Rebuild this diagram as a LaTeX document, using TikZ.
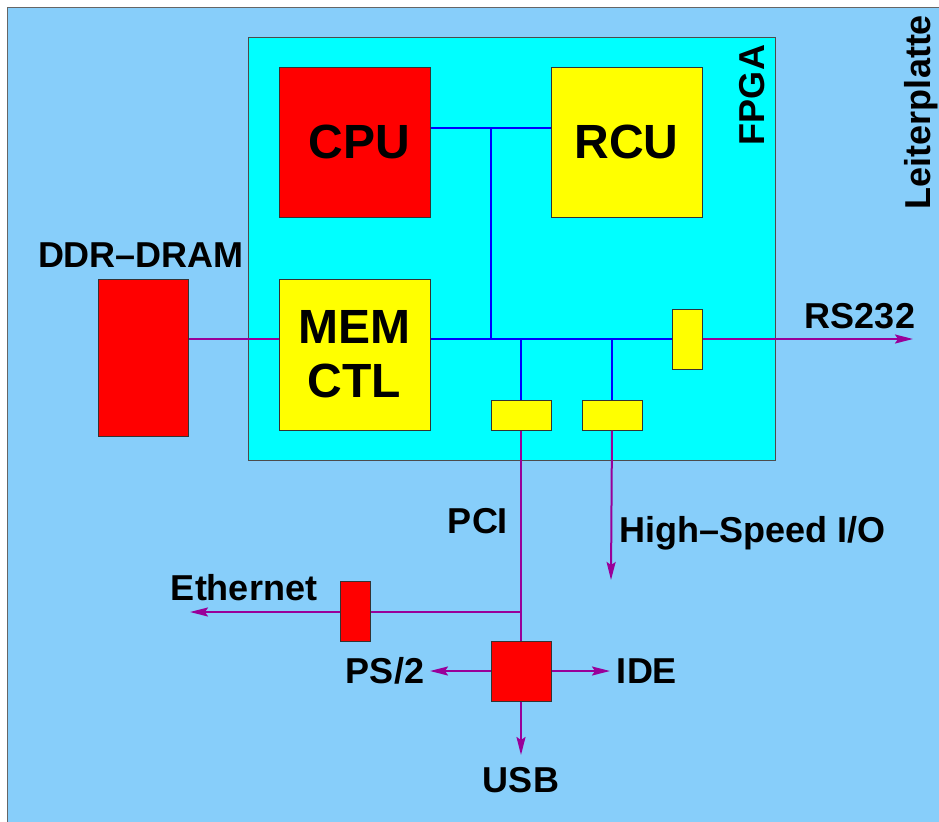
\documentclass[tikz,border=0pt]{standalone}
\usepackage{fontspec}
\setmainfont{Liberation Sans}
\usetikzlibrary{arrows.meta,positioning}
\definecolor{board}{HTML}{87CEFA}
\definecolor{fpgacol}{HTML}{00FFFF}
\definecolor{chipred}{HTML}{FF0000}
\definecolor{chipyel}{HTML}{FFFF00}
\definecolor{busblue}{HTML}{0000FF}
\definecolor{iopurple}{HTML}{990099}

\begin{document}
\begin{tikzpicture}[x=0.5pt, y=-0.5pt,
  chip/.style={draw=black!80, line width=0.5pt, inner sep=0pt, align=center,
               font=\fontsize{24}{27}\selectfont\bfseries},
  lbl/.style={font=\fontsize{18}{20}\selectfont\bfseries, inner sep=0pt},
  bus/.style={busblue, line width=1pt},
  io/.style={iopurple, line width=1pt},
  ioarr/.style={io, -{Stealth[length=9pt, width=4.5pt, inset=1.5pt]}}
]
  \useasboundingbox (0,0) rectangle (939,821);
  \draw[fill=board, draw=black!60] (7,7) rectangle (950,830);
  \draw[fill=fpgacol, draw=black!70] (248,37) rectangle (775,460);

  % chips
  \node[chip, fill=chipred, minimum width=75.5pt, minimum height=75pt] (cpu) at (354.5,142) {\hspace{5pt}CPU};
  \node[chip, fill=chipyel, minimum width=75.5pt, minimum height=75pt] (rcu) at (626.5,142) {RCU};
  \node[chip, fill=chipyel, minimum width=75.5pt, minimum height=75.5pt] (memctl) at (354.5,354.5) {MEM\\CTL};
  \node[chip, fill=chipred, minimum width=45pt, minimum height=78.5pt] (dram) at (143,357.5) {};
  \node[chip, fill=chipyel, minimum width=15pt, minimum height=30pt] (rsport) at (687,339) {};
  \node[chip, fill=chipyel, minimum width=30pt, minimum height=15pt] (pciport) at (521,415) {};
  \node[chip, fill=chipyel, minimum width=30pt, minimum height=15pt] (hsport) at (612,415) {};
  \node[chip, fill=chipred, minimum width=15pt, minimum height=30pt] (ethchip) at (355,611) {};
  \node[chip, fill=chipred, minimum width=30pt, minimum height=30pt] (bridge) at (521,671) {};

  % labels
  \node[lbl, rotate=90] at (752,95) {FPGA};
  \node[lbl, rotate=90] at (921,112) {Leiterplatte};
  \node[lbl] (dramlbl) at (141,255) {DDR--DRAM};
  \node[lbl] (rslbl) at (860,316) {RS232};
  \node[lbl] (pcilbl) at (478,521) {PCI};
  \node[lbl, anchor=west] (hslbl) at (619,533) {High--Speed I/O};
  \node[lbl] (ethlbl) at (244,588) {Ethernet};
  \node[lbl] (pslbl) at (385,671) {PS/2};
  \node[lbl] (idelbl) at (647,671) {IDE};
  \node[lbl] (usblbl) at (521,780) {USB};

  % internal bus
  \coordinate (cpubus) at (cpu.east |- 0,128);
  \coordinate (tap) at (491,128);
  \draw[bus] (cpubus) -- (rcu.west |- cpubus);
  \draw[bus] (tap) -- (tap |- rsport);
  \draw[bus] (memctl.east |- rsport) -- (rsport.west);
  \draw[bus] (pciport.north) -- (pciport.north |- rsport);
  \draw[bus] (hsport.north) -- (hsport.north |- rsport);

  % external connections
  \coordinate (rsend) at (913,339);
  \coordinate (ethend) at (190,612);
  \coordinate (hsend) at (611,580);
  \coordinate (psend) at (430,671);
  \coordinate (ideend) at (610,671);
  \coordinate (usbend) at (521,755);
  \draw[io] (dram.east |- rsport) -- (memctl.west |- rsport);
  \draw[ioarr] (rsport.east) -- (rsend);
  \draw[io] (pciport.south) -- (bridge.north);
  \draw[io] (pciport.south |- 0,612) -- (ethchip.east |- 0,612);
  \draw[ioarr] (ethchip.west |- 0,612) -- (ethend);
  \draw[ioarr] (hsport.south) -- (hsend);
  \draw[ioarr] (bridge.west) -- (psend);
  \draw[ioarr] (bridge.east) -- (ideend);
  \draw[ioarr] (bridge.south) -- (usbend);
\end{tikzpicture}
\end{document}
